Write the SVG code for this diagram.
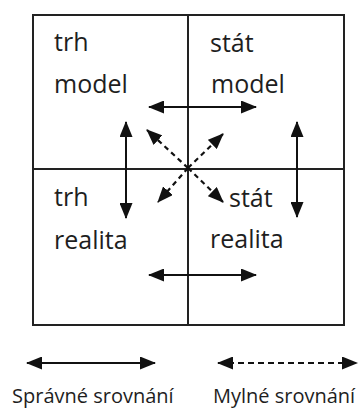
<svg xmlns="http://www.w3.org/2000/svg" width="361" height="408" viewBox="0 0 361 408">
<style>
.frame{fill:none;stroke:#222;stroke-width:2}
.lbl{font-family:"Open Sans","Noto Sans",sans-serif;font-size:25px;fill:#1e1e1e}
.leg{font-family:"Open Sans","Noto Sans",sans-serif;font-size:20px;fill:#1e1e1e}
.sol{stroke:#111;stroke-width:2;fill:none;marker-start:url(#ah);marker-end:url(#ah)}
.dash{stroke:#111;stroke-width:2.2;fill:none;stroke-dasharray:5 4;marker-end:url(#ah)}
.dash2{stroke:#111;stroke-width:2;fill:none;stroke-dasharray:6 4;marker-start:url(#ah);marker-end:url(#ah)}
</style>
<defs>
<marker id="ah" viewBox="0 0 16 13" refX="15" refY="6.5" markerWidth="16" markerHeight="13" markerUnits="userSpaceOnUse" orient="auto-start-reverse">
<path d="M0,0 L16,6.5 L0,13 z" fill="#111"/>
</marker>
</defs>
<rect class="frame" x="33" y="15" width="311" height="310"/>
<line class="frame" x1="188" y1="15" x2="188" y2="325"/>
<line class="frame" x1="33" y1="169" x2="344" y2="169"/>
<g id="trh-model"><text class="lbl" x="54" y="51">trh</text><text class="lbl" x="54" y="93">model</text></g>
<g id="stat-model"><text class="lbl" x="210" y="52">stát</text><text class="lbl" x="211" y="93">model</text></g>
<g id="trh-realita"><text class="lbl" x="54" y="206">trh</text><text class="lbl" x="54" y="249">realita</text></g>
<g id="stat-realita"><text class="lbl" x="229" y="207">stát</text><text class="lbl" x="210" y="248">realita</text></g>
<g id="connectors">
<line class="sol" x1="149" y1="107" x2="256" y2="107"/>
<line class="sol" x1="149" y1="275" x2="256" y2="275"/>
<line class="sol" x1="126" y1="122" x2="126" y2="218"/>
<line class="sol" x1="297" y1="122" x2="297" y2="217"/>
<line class="dash" x1="188" y1="168" x2="147" y2="130"/>
<line class="dash" x1="188" y1="168" x2="223" y2="134"/>
<line class="dash" x1="188" y1="168" x2="158" y2="202"/>
<line class="dash" x1="188" y1="168" x2="223" y2="202"/>
</g>
<g id="legend">
<line class="sol" x1="27" y1="363" x2="155" y2="363"/>
<line class="dash2" x1="218" y1="363" x2="357" y2="363"/>
<text class="leg" x="12" y="403">Správné srovnání</text>
<text class="leg" x="213" y="403">Mylné srovnání</text>
</g>
</svg>
